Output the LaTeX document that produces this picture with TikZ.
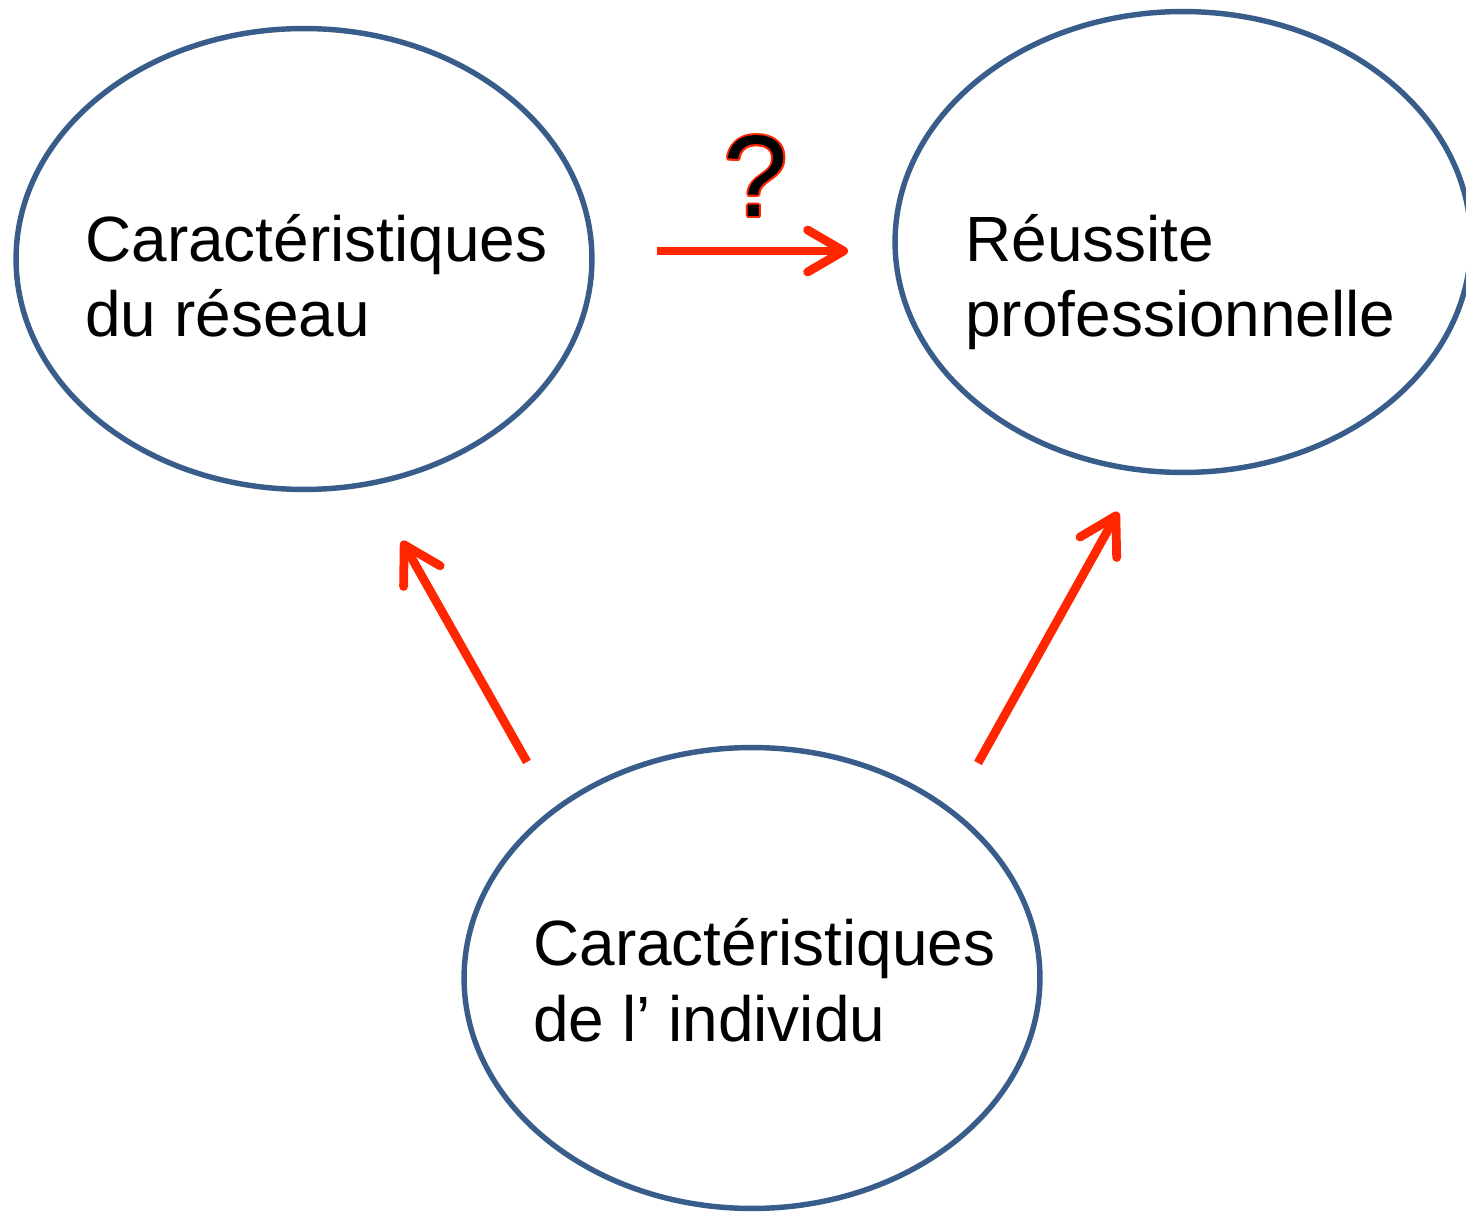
\documentclass[tikz,border=0pt]{standalone}
\usepackage{fontspec}
\setmainfont{Liberation Sans}
\usetikzlibrary{shapes,arrows.meta,calc,positioning}
\definecolor{bleu}{RGB}{56,93,138}
\definecolor{rouge}{RGB}{255,38,0}

\begin{document}
\begin{tikzpicture}[x=0.02cm,y=-0.02cm,
	bulle/.style={draw=bleu, line width=3.1pt, ellipse, minimum width=11.52cm, minimum height=9.22cm, inner sep=0pt},
	txt/.style={align=left, inner sep=0pt, font=\fontsize{36.4pt}{42.7pt}\selectfont},
	fleche/.style={draw=rouge, line width=5pt, -{Straight Barb[length=0.72cm, width=0.84cm, round]}}]
			\useasboundingbox (0,0) rectangle (1466,1212);
			% Define nodes
			\node[bulle] (res) at (304,259) {}; %
			\node[bulle] (reu) at (1183,242) {}; %
			\node[bulle] (ind) at (752,978) {}; %
			\node[txt, anchor=base west] (resT) at (85,337) {Caractéristiques\\du réseau}; %
			\node[txt, anchor=base west] (reuT) at (965,337) {Réussite\\professionnelle}; %
			\node[txt, anchor=base west] (indT) at (533,1041) {Caractéristiques\\de l’ individu}; %
			%% question mark
			\coordinate (q) at (756,217);
			\foreach \a in {0,30,...,330}
				\node[anchor=base, rouge, font=\fontsize{66pt}{66pt}\selectfont] at ($(q)+(\a:2)$) {?};
			\node[anchor=base, font=\fontsize{66pt}{66pt}\selectfont] (quest) at (q) {?}; %
			%% arrows
			\coordinate (h1) at (657,251); \coordinate (h2) at (848,251);
			\coordinate (g1) at (527,762); \coordinate (g2) at (402,541);
			\coordinate (d1) at (978,763); \coordinate (d2) at (1118,512);
			\draw[fleche] (h1) -- (h2);
			\draw[fleche] (g1) -- (g2);
			\draw[fleche] (d1) -- (d2);
\end{tikzpicture}
\end{document}
